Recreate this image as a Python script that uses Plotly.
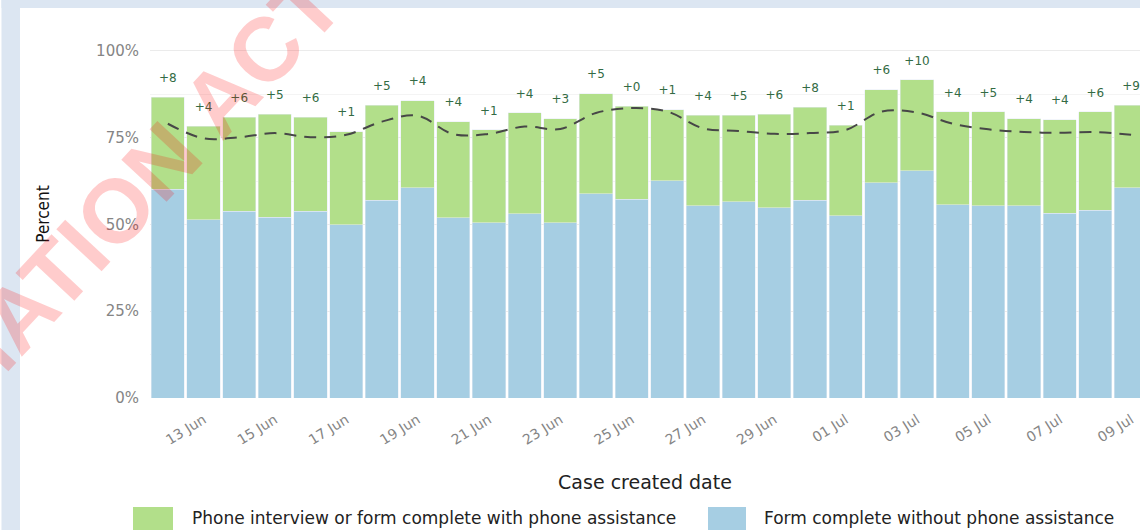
import plotly.graph_objects as go

# ---------------- data ----------------
dates = ["12 Jun", "13 Jun", "14 Jun", "15 Jun", "16 Jun", "17 Jun", "18 Jun",
         "19 Jun", "20 Jun", "21 Jun", "22 Jun", "23 Jun", "24 Jun", "25 Jun",
         "26 Jun", "27 Jun", "28 Jun", "29 Jun", "30 Jun", "01 Jul", "02 Jul",
         "03 Jul", "04 Jul", "05 Jul", "06 Jul", "07 Jul", "08 Jul", "09 Jul"]

without_phone = [60.1, 51.3, 53.8, 52.1, 53.8, 49.9, 57.0, 60.5, 51.9, 50.5,
                 53.1, 50.5, 58.9, 57.2, 62.6, 55.4, 56.5, 54.8, 56.9, 52.5,
                 62.0, 65.5, 55.6, 55.4, 55.4, 53.2, 54.1, 60.5]

with_phone = [26.6, 27.0, 27.1, 29.7, 27.1, 26.8, 27.3, 25.1, 27.7, 26.7,
              29.0, 30.0, 28.7, 26.8, 20.4, 26.1, 25.0, 27.0, 26.9, 26.1,
              26.8, 26.1, 26.8, 27.0, 25.1, 27.0, 28.3, 23.8]

benchmark = [79.0, 74.8, 75.1, 76.3, 75.1, 75.8, 79.6, 81.3, 76.0, 76.1,
             78.2, 77.5, 82.1, 83.5, 82.5, 77.7, 76.9, 76.1, 76.3, 77.2,
             82.5, 82.2, 79.0, 77.4, 76.6, 76.4, 76.6, 75.8]

diff_labels = ["+8", "+4", "+6", "+5", "+6", "+1", "+5", "+4", "+4", "+1",
               "+4", "+3", "+5", "+0", "+1", "+4", "+5", "+6", "+8", "+1",
               "+6", "+10", "+4", "+5", "+4", "+4", "+6", "+9"]

tick_dates = dates[1::2]
y_ticks = [0, 25, 50, 75, 100]
y_ticktext = ["0%", "25%", "50%", "75%", "100%"]

name_with = "Phone interview or form complete with phone assistance"
name_without = "Form complete without phone assistance"

GREEN = "#b2df8a"
BLUE = "#a6cee3"

# ---------------- layout geometry helpers ----------------
W, H = 1140, 530
ML, MR, MT, MB = 150, 0, 30, 132
PW, PH = W - ML - MR, H - MT - MB


def px(x):
    return (x - ML) / PW


def py(y):
    return (H - MB - y) / PH


totals = [a + b for a, b in zip(without_phone, with_phone)]

fig = go.Figure()
fig.add_bar(x=dates, y=without_phone, marker_color=BLUE, name=name_without)
fig.add_bar(x=dates, y=with_phone, marker_color=GREEN, name=name_with)
fig.add_scatter(x=dates, y=benchmark, mode="lines", name="Benchmark",
                line=dict(color="#474747", width=2, dash="12px,8px", shape="spline"))
fig.add_scatter(x=dates, y=[t + 5.3 for t in totals], mode="text", text=diff_labels,
                textfont=dict(family="DejaVu Sans", size=12, color="#336b44"),
                name="Difference", cliponaxis=False)

shapes = [
    # outer light-blue frame (left and top)
    dict(type="rect", xref="paper", yref="paper", x0=px(1.5), x1=px(20), y0=py(530), y1=py(0),
         fillcolor="#dce6f2", line=dict(width=0), layer="below"),
    dict(type="rect", xref="paper", yref="paper", x0=px(1.5), x1=px(1140), y0=py(8), y1=py(0),
         fillcolor="#dce6f2", line=dict(width=0), layer="below"),
    # legend keys
    dict(type="rect", xref="paper", yref="paper", x0=px(133), x1=px(173), y0=py(547), y1=py(507),
         fillcolor=GREEN, line=dict(width=0)),
    dict(type="rect", xref="paper", yref="paper", x0=px(708), x1=px(746), y0=py(547), y1=py(507),
         fillcolor=BLUE, line=dict(width=0)),
]

annotations = [
    dict(text=name_with, xref="paper", yref="paper", x=px(190), y=py(518), xanchor="left",
         yanchor="middle", showarrow=False, font=dict(family="DejaVu Sans", size=17, color="#222222")),
    dict(text=name_without, xref="paper", yref="paper", x=px(762), y=py(518), xanchor="left",
         yanchor="middle", showarrow=False, font=dict(family="DejaVu Sans", size=17, color="#222222")),
    # watermark
    dict(text="<b>INFORMATION ACT</b>", xref="paper", yref="paper", x=px(40), y=py(292),
         xanchor="center", yanchor="middle", textangle=-47, showarrow=False,
         font=dict(family="Liberation Sans", size=90, color="rgba(255,0,0,0.2)")),
]

fig.update_layout(
    width=W, height=H,
    margin=dict(l=ML, r=MR, t=MT, b=MB),
    barmode="stack", bargap=0.07,
    plot_bgcolor="white", paper_bgcolor="white",
    showlegend=False,
    shapes=shapes, annotations=annotations,
    xaxis=dict(
        type="category", range=[-0.5, 27.25],
        tickmode="array", tickvals=tick_dates, ticktext=tick_dates,
        tickangle=-32, ticks="", ticklabelstandoff=10,
        tickfont=dict(family="DejaVu Sans", size=14, color="#858585"),
        showgrid=False, zeroline=False, showline=False,
        title=dict(text="Case created date", standoff=28,
                   font=dict(family="DejaVu Sans", size=19, color="#222222")),
        automargin=False,
    ),
    yaxis=dict(
        range=[0, 106], tickmode="array", tickvals=y_ticks, ticktext=y_ticktext,
        ticks="", ticklabelstandoff=10,
        tickfont=dict(family="DejaVu Sans", size=15, color="#858585"),
        showgrid=True, gridcolor="#ebebeb", gridwidth=1,
        minor=dict(tickvals=[12.5, 37.5, 62.5, 87.5], showgrid=True, gridcolor="#f4f4f4", ticks=""),
        zeroline=False, showline=False,
        title=dict(text="Percent", standoff=42,
                   font=dict(family="DejaVu Sans Condensed, Liberation Sans", size=17, color="#111111")),
        automargin=False,
    ),
)

fig.write_html("out.html", config={"displayModeBar": False},
               post_script="document.body.style.margin='0px';document.body.style.overflow='hidden';")
